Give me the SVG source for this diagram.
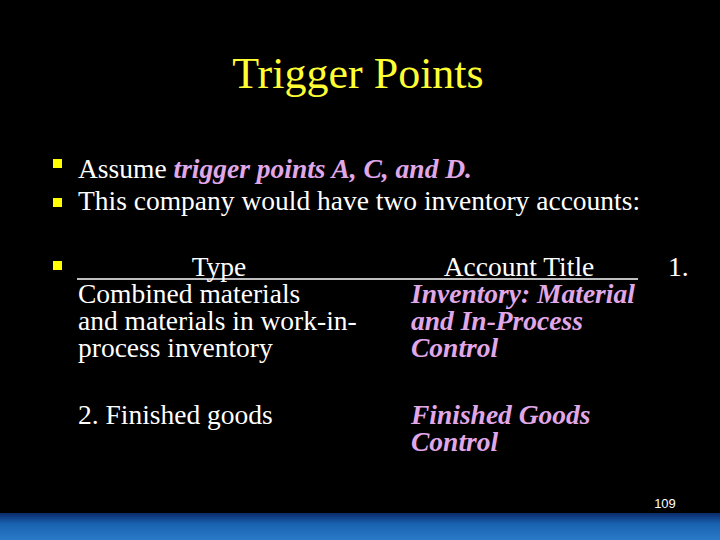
<svg xmlns="http://www.w3.org/2000/svg" width="720" height="540" viewBox="0 0 720 540">
<defs>
<style>
.t{font-family:"Liberation Serif",serif;font-size:27.5px;fill:#fff}
.p{font-family:"Liberation Serif",serif;font-size:27.5px;fill:#e0a8e8;font-style:italic;font-weight:bold}
.b{fill:#ffff00}
</style>
<linearGradient id="bar" x1="0" y1="0" x2="0" y2="1">
<stop offset="0" stop-color="#0a2a6a"/><stop offset="0.4" stop-color="#1a62b0"/><stop offset="1" stop-color="#2a7ac8"/>
</linearGradient>
</defs>
<rect width="720" height="540" fill="#000"/>
<rect y="513" width="720" height="27" fill="url(#bar)"/>
<g id="title"><text x="358" y="88" text-anchor="middle" font-family="Liberation Serif, serif" font-size="44" fill="#ffff33">Trigger Points</text></g>
<g id="bullets">
<rect class="b" x="53" y="159" width="9" height="9"/>
<rect class="b" x="53" y="198" width="9" height="9"/>
<rect class="b" x="53" y="261" width="9" height="9"/>
</g>
<g id="text">
<text class="t" x="78" y="178">Assume <tspan class="p">trigger points A, C, and D.</tspan></text>
<text class="t" x="78" y="210">This company would have two inventory accounts:</text>
<text class="t" x="219" y="276" text-anchor="middle">Type</text>
<text class="t" x="519" y="276" text-anchor="middle">Account Title</text>
<line x1="77" y1="279" x2="638" y2="279" stroke="#fff" stroke-width="1.5"/>
<text class="t" x="668" y="276">1.</text>
<text class="t" x="78" y="303">Combined materials</text>
<text class="t" x="78" y="330">and materials in work-in-</text>
<text class="t" x="78" y="357">process inventory</text>
<text class="p" x="411" y="303">Inventory: Material</text>
<text class="p" x="411" y="330">and In-Process</text>
<text class="p" x="411" y="357">Control</text>
<text class="t" x="78" y="424">2. Finished goods</text>
<text class="p" x="411" y="424">Finished Goods</text>
<text class="p" x="411" y="451">Control</text>
<text x="665" y="508" text-anchor="middle" font-family="Liberation Sans, sans-serif" font-size="13" fill="#fff">109</text>
</g>
</svg>
